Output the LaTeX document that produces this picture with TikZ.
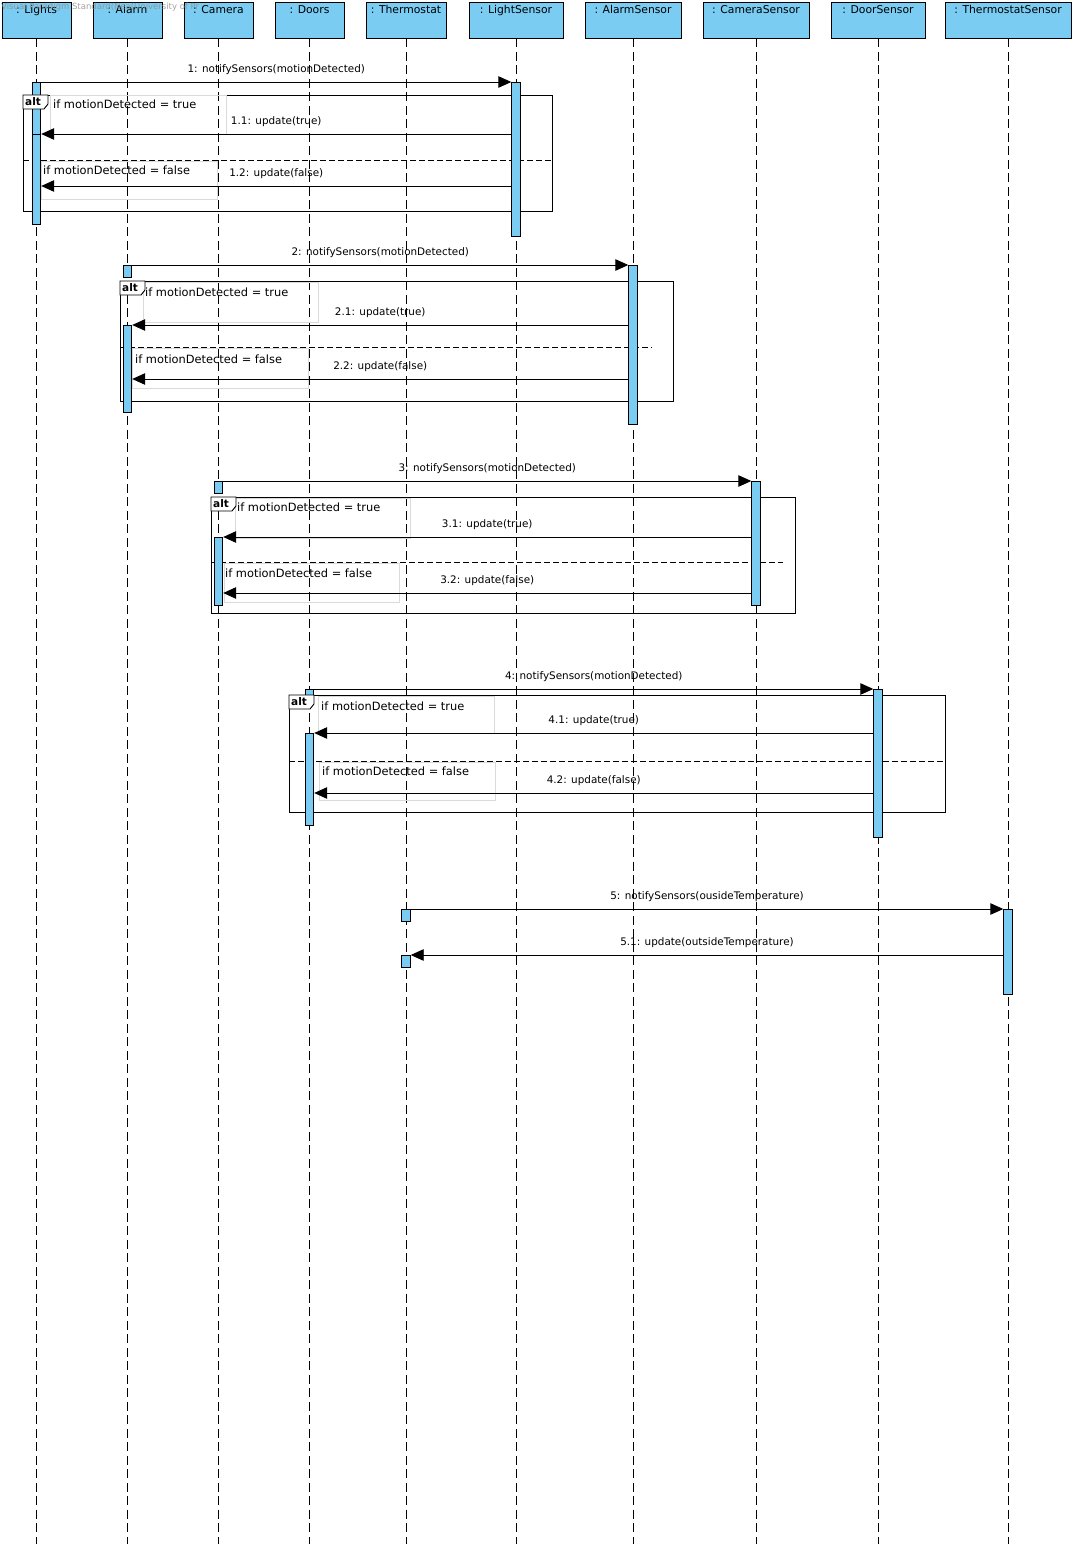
\documentclass[tikz,border=0pt]{standalone}
\usepackage{fontspec}
\setmainfont{DejaVu Sans}
\usetikzlibrary{arrows.meta, positioning}

\definecolor{actblue}{RGB}{122,204,242}
\definecolor{guardgray}{RGB}{218,218,218}

\tikzset{
  head/.style={draw, fill=actblue, line width=0.9pt, minimum height=36pt, inner xsep=0pt, inner ysep=3pt,
    text height=9pt, text depth=21pt, font=\fontsize{10.8}{12}\selectfont},
  life/.style={line width=0.8pt, dash pattern=on 9pt off 4.5pt},
  actbar/.style={draw, fill=actblue, line width=0.9pt, minimum width=8.5pt, inner sep=0pt, anchor=north},
  altframe/.style={draw, line width=0.9pt, inner sep=0pt, anchor=north west},
  msg/.style={line width=0.9pt, -{Triangle[length=13pt,width=11.5pt]}},
  msglabel/.style={midway, above=6.5pt, inner sep=0pt, font=\fontsize{10.4}{12}\selectfont},
  guard/.style={anchor=base west, inner sep=0pt, font=\fontsize{11.4}{13}\selectfont},
  guardbox/.style={draw=guardgray, line width=0.8pt},
  sep/.style={line width=0.9pt, dash pattern=on 6pt off 3pt},
}

\begin{document}
\begin{tikzpicture}[x=1pt, y=-1pt, >=Latex]
    \useasboundingbox[fill=white] (0,0) rectangle (1077,1544);

    % Objects and lifelines
    \foreach \obj/\cx/\w/\txt in {lights/36.5/69/Lights, alarm/127.5/69/Alarm, camera/218.5/69/Camera,
        doors/309.5/69/Doors, thermostat/406/80/Thermostat, lightsensor/516/94/LightSensor,
        alarmsensor/633/96/AlarmSensor, camerasensor/756/106/CameraSensor,
        doorsensor/878/94/DoorSensor, thermosensor/1008/126/ThermostatSensor} {
      \node[head, minimum width=\w pt] (\obj) at (\cx,20) {: \txt};
      \draw[life] (\obj.south) -- (\obj.south |- 0,1544);
    }

    % Combined fragments
    \node[altframe, minimum width=529pt, minimum height=116pt] (alt1) at (23,95) {};
    \node[altframe, minimum width=553pt, minimum height=120pt] (alt2) at (120,281) {};
    \node[altframe, minimum width=584pt, minimum height=116pt] (alt3) at (211,497) {};
    \node[altframe, minimum width=656pt, minimum height=117pt] (alt4) at (289,695) {};

    % Guard areas
    \draw[guardbox] (50,95) rectangle (226,134);
    \draw[guardbox] (41,161) rectangle (217,199);
    \draw[guardbox] (143,282) rectangle (318,322);
    \draw[guardbox] (132,348) rectangle (308,388);
    \draw[guardbox] (235,498) rectangle (410,538);
    \draw[guardbox] (224,563) rectangle (399,602);
    \draw[guardbox] (318,696) rectangle (494,733);
    \draw[guardbox] (319,762) rectangle (495,800);

    % Operand separators
    \draw[sep] (alt1.west |- 0,160) -- (alt1.east |- 0,160);
    \draw[sep] (alt2.west |- 0,347) -- (652,347);
    \draw[sep] (alt3.west |- 0,562) -- (783,562);
    \draw[sep] (alt4.west |- 0,761) -- (alt4.east |- 0,761);

    % Caller activations
    \node[actbar, minimum height=52pt] (la1) at (lights.south |- 0,82) {};
    \node[actbar, minimum height=12pt] (aa1) at (alarm.south |- 0,265) {};
    \node[actbar, minimum height=12pt] (ca1) at (camera.south |- 0,481) {};
    \node[actbar, minimum height=12pt] (da1) at (doors.south |- 0,689) {};
    \node[actbar, minimum height=12pt] (ta1) at (thermostat.south |- 0,909) {};

    % alt tabs
    \foreach \f in {alt1, alt2, alt3, alt4} {
      \draw[line width=0.9pt, fill=white] (\f.north west) -- ++(25,0) -- ++(0,9) -- ++(-4,5) -- ++(-21,0) -- cycle;
      \node[anchor=base west, inner sep=0pt, font=\fontsize{10.5}{12}\bfseries] (\f-tab) at ([xshift=2pt,yshift=-10.5pt]\f.north west) {alt};
    }

    % Guard texts
    \node[guard] (g1t) at (53,109) {if motionDetected = true};
    \node[guard] (g1f) at (43,174) {if motionDetected = false};
    \node[guard] (g2t) at (145,296) {if motionDetected = true};
    \node[guard] (g2f) at (135,363) {if motionDetected = false};
    \node[guard] (g3t) at (237,511) {if motionDetected = true};
    \node[guard] (g3f) at (225,577) {if motionDetected = false};
    \node[guard] (g4t) at (321,710) {if motionDetected = true};
    \node[guard] (g4f) at (322,775) {if motionDetected = false};

    % Sensor activations
    \node[actbar, minimum height=154pt] (ls1) at (lightsensor.south |- 0,82) {};
    \node[actbar, minimum height=159pt] (as1) at (alarmsensor.south |- 0,265) {};
    \node[actbar, minimum height=124pt] (cs1) at (camerasensor.south |- 0,481) {};
    \node[actbar, minimum height=148pt] (ds1) at (doorsensor.south |- 0,689) {};
    \node[actbar, minimum height=85pt] (tsa) at (thermosensor.south |- 0,909) {};

    % Callback activations
    \node[actbar, minimum height=90pt] (la2) at (lights.south |- 0,134) {};
    \node[actbar, minimum height=87pt] (aa2) at (alarm.south |- 0,325) {};
    \node[actbar, minimum height=68pt] (ca2) at (camera.south |- 0,537) {};
    \node[actbar, minimum height=92pt] (da2) at (doors.south |- 0,733) {};
    \node[actbar, minimum height=12pt] (ta2) at (thermostat.south |- 0,955) {};

    % Messages
    \draw[msg] (la1.north east) -- (ls1.north west) node[msglabel] {1: notifySensors(motionDetected)};
    \draw[msg] (ls1.west |- la2.north) -- (la2.north east) node[msglabel] {1.1: update(true)};
    \draw[msg] (ls1.west |- 0,186) -- (la2.east |- 0,186) node[msglabel] {1.2: update(false)};

    \draw[msg] (aa1.north east) -- (as1.north west) node[msglabel] {2: notifySensors(motionDetected)};
    \draw[msg] (as1.west |- aa2.north) -- (aa2.north east) node[msglabel] {2.1: update(true)};
    \draw[msg] (as1.west |- 0,379) -- (aa2.east |- 0,379) node[msglabel] {2.2: update(false)};

    \draw[msg] (ca1.north east) -- (cs1.north west) node[msglabel] {3: notifySensors(motionDetected)};
    \draw[msg] (cs1.west |- ca2.north) -- (ca2.north east) node[msglabel] {3.1: update(true)};
    \draw[msg] (cs1.west |- 0,593) -- (ca2.east |- 0,593) node[msglabel] {3.2: update(false)};

    \draw[msg] (da1.north east) -- (ds1.north west) node[msglabel] {4: notifySensors(motionDetected)};
    \draw[msg] (ds1.west |- da2.north) -- (da2.north east) node[msglabel] {4.1: update(true)};
    \draw[msg] (ds1.west |- 0,793) -- (da2.east |- 0,793) node[msglabel] {4.2: update(false)};

    \draw[msg] (ta1.north east) -- (tsa.north west) node[msglabel] {5: notifySensors(ousideTemperature)};
    \draw[msg] (tsa.west |- ta2.north) -- (ta2.north east) node[msglabel] {5.1: update(outsideTemperature)};

    % Watermark
    \node[anchor=west, inner sep=0pt, text=black!45, opacity=0.8, font=\fontsize{8.5}{9}\selectfont] (mark) at (1,7)
      {Visual Paradigm Standard(Nea(University of Pr};
\end{tikzpicture}
\end{document}
